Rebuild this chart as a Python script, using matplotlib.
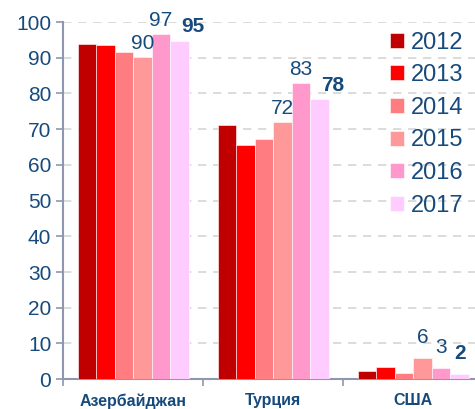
import matplotlib.pyplot as plt
import numpy as np

plt.rcParams['font.family'] = ['Liberation Sans', 'DejaVu Sans']

# Data
countries = ['Азербайджан', 'Турция', 'США']
years = ['2012', '2013', '2014', '2015', '2016', '2017']
values = {
    '2012': [94.0, 71.3, 2.3],
    '2013': [93.7, 65.7, 3.4],
    '2014': [91.5, 67.2, 1.8],
    '2015': [90.3, 71.9, 5.8],
    '2016': [96.6, 83.0, 3.0],
    '2017': [94.8, 78.4, 1.4],
}
colors = ['#C00000', '#FF0000', '#FF7C80', '#FF9999', '#FF99CC', '#FFCCFF']
# labelled years and their texts
label_years = ['2015', '2016', '2017']
label_texts = {
    '2015': ['90', '72', '6'],
    '2016': ['97', '83', '3'],
    '2017': ['95', '78', '2'],
}

text_color = '#174A7C'
axis_color = '#8E97B0'

fig = plt.figure(figsize=(4.75, 4.09), dpi=100)
ax = fig.add_axes([0.133, 0.073, 0.867, 0.873])

x = np.arange(len(countries))
width = 0.132
offsets = (np.arange(len(years)) - 2.5) * width

for i, yr in enumerate(years):
    ax.bar(x + offsets[i], values[yr], width, color=colors[i], label=yr,
           edgecolor='white', linewidth=0.4, zorder=3)
    if yr in label_years:
        for j, txt in enumerate(label_texts[yr]):
            bold = yr == '2017'
            ha = 'left' if (bold and j < 2) else 'center'
            xpos = x[j] + offsets[i] + (0.01 if ha == 'left' else 0)
            dy = 8 if j == 2 else 3
            ax.annotate(txt, (xpos, values[yr][j]), xytext=(0, dy),
                        textcoords='offset points', ha=ha, va='bottom',
                        fontsize=15, color=text_color,
                        fontweight='bold' if bold else 'normal', zorder=4)

ax.set_ylim(0, 100)
ax.set_xlim(-0.5, 2.44)
ax.set_yticks(np.arange(0, 101, 10))
ax.yaxis.grid(True, linestyle=(0, (5, 4)), color='#D5D5D5', linewidth=1.2, zorder=0)
ax.tick_params(axis='y', labelsize=15, labelcolor=text_color, color=axis_color,
               length=5, width=1.2)
ax.set_xticks([-0.5, 0.5, 1.5])
ax.set_xticks(x, minor=True)
ax.set_xticklabels([])
ax.set_xticklabels(countries, minor=True, fontsize=11.5, fontweight='bold', color=text_color)
ax.tick_params(axis='x', which='major', length=5, width=1.2, color=axis_color)
ax.tick_params(axis='x', which='minor', length=0, pad=10)

for side in ['top', 'right']:
    ax.spines[side].set_visible(False)
for side in ['left', 'bottom']:
    ax.spines[side].set_color(axis_color)
    ax.spines[side].set_linewidth(1.5)

leg = ax.legend(loc='upper left', bbox_to_anchor=(0.77, 1.0), frameon=False,
                fontsize=17, handlelength=0.6, handleheight=0.6,
                handletextpad=0.3, labelspacing=0.45, borderaxespad=0)
for t in leg.get_texts():
    t.set_color(text_color)

fig.savefig('out.png', dpi=100)
